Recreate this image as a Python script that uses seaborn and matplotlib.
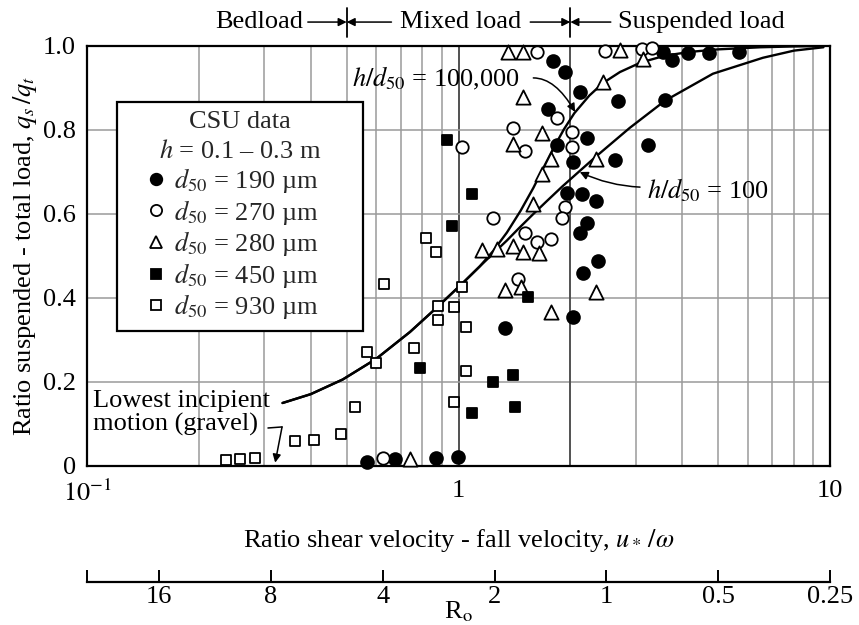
import numpy as np
import pandas as pd
import matplotlib
matplotlib.use("Agg")
import matplotlib.pyplot as plt
import seaborn as sns
from matplotlib.lines import Line2D
from matplotlib.ticker import LogLocator, NullLocator, FixedLocator
from matplotlib.transforms import blended_transform_factory

sns.set_theme(style="white")
plt.rcParams["font.family"] = ["Liberation Serif", "DejaVu Serif"]
plt.rcParams["mathtext.fontset"] = "stix"
FS = 19

# ---------------- data (u*/omega, qs/qt) ----------------
d190_x = [1.80, 1.94, 2.12, 2.69, 1.74, 1.84, 2.22, 2.03, 2.64, 3.24, 3.60, 1.96, 2.15, 2.34, 2.22,
          2.12, 2.37, 2.16, 2.03, 1.33, 3.55, 3.76, 4.15, 4.72, 5.69, 0.567, 0.675, 0.87, 0.997]
d190_y = [0.964, 0.938, 0.890, 0.869, 0.850, 0.764, 0.781, 0.724, 0.729, 0.764, 0.871, 0.650, 0.648, 0.631, 0.579,
          0.555, 0.488, 0.460, 0.355, 0.329, 0.986, 0.967, 0.983, 0.983, 0.986, 0.010, 0.017, 0.019, 0.021]

d270_x = [1.025, 1.63, 2.48, 3.12, 3.32, 1.84, 1.40, 1.51, 2.02, 2.02, 1.94, 1.90, 1.24, 1.51, 1.63, 1.77, 1.45, 0.625]
d270_y = [0.760, 0.986, 0.988, 0.993, 0.995, 0.829, 0.805, 0.750, 0.795, 0.760, 0.617, 0.590, 0.590, 0.555, 0.533, 0.540, 0.445, 0.019]

d280_x = [1.36, 1.49, 2.72, 3.13, 2.45, 1.49, 1.68, 1.40, 1.77, 1.68, 1.59, 2.34, 1.16, 1.27, 1.40, 1.49, 1.65,
          1.33, 1.47, 1.77, 2.34, 0.74]
d280_y = [0.986, 0.986, 0.990, 0.969, 0.914, 0.879, 0.793, 0.767, 0.731, 0.695, 0.624, 0.731, 0.514, 0.517, 0.524, 0.510, 0.507,
          0.419, 0.426, 0.367, 0.414, 0.017]

d450_x = [0.93, 1.09, 0.96, 0.79, 1.24, 1.40, 1.09, 1.42, 1.54]
d450_y = [0.776, 0.648, 0.571, 0.233, 0.200, 0.217, 0.126, 0.140, 0.402]

d930_x = [0.82, 0.87, 0.63, 1.025, 0.88, 0.97, 0.88, 1.05, 0.567, 0.60, 0.757, 1.05, 0.97, 0.527, 0.483,
          0.408, 0.363, 0.283, 0.258, 0.237]
d930_y = [0.543, 0.510, 0.433, 0.426, 0.381, 0.379, 0.348, 0.331, 0.271, 0.245, 0.281, 0.226, 0.152, 0.140, 0.076,
          0.062, 0.060, 0.019, 0.017, 0.014]

# theoretical curves
common_x = [0.336, 0.40, 0.488, 0.60, 0.74, 0.876, 1.025, 1.14]
common_y = [0.150, 0.171, 0.206, 0.255, 0.319, 0.378, 0.435, 0.475]
upper_x = [1.24, 1.35, 1.47, 1.59, 1.70, 1.80, 1.92, 2.05, 2.25, 2.45, 2.72, 3.1, 3.6, 4.2, 5.0, 6.5, 8.0, 9.6]
upper_y = [0.512, 0.556, 0.608, 0.662, 0.713, 0.756, 0.801, 0.840, 0.882, 0.912, 0.938, 0.961, 0.977, 0.986,
           0.992, 0.997, 0.999, 1.0]
lower_x = [1.24, 1.35, 1.45, 1.59, 1.73, 1.9, 2.08, 2.36, 2.89, 3.6, 4.84, 6.6, 8.0, 9.6]
lower_y = [0.506, 0.537, 0.565, 0.600, 0.631, 0.665, 0.696, 0.739, 0.805, 0.870, 0.934, 0.972, 0.989, 0.997]

x_ticks = [0.1, 1, 10]
x_ticklabels = ["$10^{-1}$", "1", "10"]
y_ticks = [0, 0.2, 0.4, 0.6, 0.8, 1.0]
y_ticklabels = ["0", "0.2", "0.4", "0.6", "0.8", "1.0"]
ro_ticks = [25, 16, 8, 4, 2, 1, 0.5, 0.25]
ro_ticklabels = ["", "16", "8", "4", "2", "1", "0.5", "0.25"]

# ---------------- figure ----------------
fig = plt.figure(figsize=(8.59, 6.25), dpi=100)
ax = fig.add_axes([87 / 859, 1 - 466 / 625, 743 / 859, 420 / 625])
ax.set_xscale("log")
ax.set_xlim(0.1, 10)
ax.set_ylim(0, 1)

ax.xaxis.set_minor_locator(LogLocator(base=10, subs=np.arange(2, 10)))
ax.grid(which="minor", axis="x", color="#9a9a9a", lw=1.1)
ax.grid(which="major", axis="x", color="#333333", lw=1.2)
ax.grid(which="major", axis="y", color="#9a9a9a", lw=1.1)
ax.axvline(2, color="#444444", lw=1.2, zorder=0.6)
ax.set_axisbelow(True)

for sp in ax.spines.values():
    sp.set_color("black")
    sp.set_linewidth(1.6)

ax.set_xticks(x_ticks, labels=x_ticklabels)
ax.set_yticks(y_ticks, labels=y_ticklabels)
ax.tick_params(axis="both", which="both", length=0, labelsize=FS, colors="black")
ax.tick_params(axis="x", pad=10)
ax.tick_params(axis="y", pad=8)
ax.set_xlabel(r"Ratio shear velocity - fall velocity, $u_*\,/\omega$", fontsize=FS, labelpad=15, color="black")
ax.set_ylabel(r"Ratio suspended - total load, $q_s\,/q_t$", fontsize=FS, labelpad=3, color="black")

# curves
sns.lineplot(x=common_x + upper_x, y=common_y + upper_y, sort=False, estimator=None,
             color="black", lw=1.7, ax=ax, zorder=2)
sns.lineplot(x=common_x + lower_x, y=common_y + lower_y, sort=False, estimator=None,
             color="black", lw=1.7, ax=ax, zorder=2)

# scatter series
series = [
    (d190_x, d190_y, "o", "black", 85, r"$d_{50}$ = 190 µm"),
    (d270_x, d270_y, "o", "white", 80, r"$d_{50}$ = 270 µm"),
    (d280_x, d280_y, "^", "white", 105, r"$d_{50}$ = 280 µm"),
    (d450_x, d450_y, "s", "black", 62, r"$d_{50}$ = 450 µm"),
    (d930_x, d930_y, "s", "white", 58, r"$d_{50}$ = 930 µm"),
]
handles = []
for xs, ys, m, fc, s, lab in series:
    sns.scatterplot(x=xs, y=ys, marker=m, s=s, color=fc, edgecolor="black", linewidth=1.3,
                    ax=ax, zorder=3, clip_on=False, legend=False)
    handles.append(Line2D([], [], marker=m, ls="none", mfc=fc, mec="black", mew=1.3,
                          ms=np.sqrt(s) * 0.9, label=lab))

leg = ax.legend(handles=handles, title="CSU data\n$h$ = 0.1 – 0.3 m",
                loc="upper left", bbox_to_anchor=(0.040, 0.30, 0.331, 0.567), mode="expand",
                borderaxespad=0, fontsize=FS, title_fontsize=FS, frameon=True, fancybox=False,
                edgecolor="black", framealpha=1, handlelength=2.26, handletextpad=-0.43,
                labelspacing=0.1, borderpad=0.35)
leg.get_title().set_multialignment("center")
leg.get_title().set_linespacing(1.4)
leg.get_frame().set_linewidth(1.6)
leg.set_zorder(5)

# curve annotations
ax.text(0.517, 0.924, r"$h/d_{50}$ = 100,000", fontsize=FS, ha="left", va="center", color="black")
ax.annotate("", xy=(2.06, 0.843), xytext=(1.59, 0.924),
            arrowprops=dict(arrowstyle="-|>", color="black", lw=1.1, shrinkA=0, shrinkB=0,
                            mutation_scale=12, connectionstyle="angle3,angleA=0,angleB=120"))
ax.text(3.22, 0.657, r"$h/d_{50}$ = 100", fontsize=FS, ha="left", va="center", color="black")
ax.annotate("", xy=(2.12, 0.70), xytext=(3.08, 0.664),
            arrowprops=dict(arrowstyle="-|>", color="black", lw=1.1, shrinkA=0, shrinkB=0,
                            mutation_scale=12, connectionstyle="arc3,rad=-0.1"))
ax.text(0.104, 0.126, "Lowest incipient\nmotion (gravel)", fontsize=FS, ha="left", va="center",
        linespacing=1.05, color="black")
ax.plot([0.307, 0.335], [0.0905, 0.093], color="black", lw=1.1)
ax.annotate("", xy=(0.321, 0.008), xytext=(0.335, 0.093),
            arrowprops=dict(arrowstyle="-|>", color="black", lw=1.1, shrinkA=0, shrinkB=0,
                            mutation_scale=12))

# top regime labels
trans = blended_transform_factory(ax.transData, ax.transAxes)
ytop = 1.057
for xb in (0.5, 2.0):
    ax.plot([xb, xb], [1.021, 1.090], color="black", lw=1.3, transform=trans, clip_on=False)
ax.text(0.381, ytop, "Bedload", fontsize=FS, ha="right", va="center", transform=trans, color="black")
ax.text(0.696, ytop, "Mixed load", fontsize=FS, ha="left", va="center", transform=trans, color="black")
ax.text(2.69, ytop, "Suspended load", fontsize=FS, ha="left", va="center", transform=trans, color="black")
arrow_kw = dict(arrowstyle="-|>", color="black", lw=1.1, shrinkA=0, shrinkB=0, mutation_scale=12)
for x0, x1 in [(0.393, 0.5), (0.66, 0.5), (1.56, 2.0), (2.57, 2.0)]:
    ax.annotate("", xy=(x1, ytop), xytext=(x0, ytop), xycoords=trans, textcoords=trans,
                arrowprops=arrow_kw, annotation_clip=False)

# secondary Ro axis
sec = ax.secondary_xaxis(-0.276, functions=(lambda x: 2.5 / x, lambda r: 2.5 / r))
sec.set_xticks(ro_ticks, labels=ro_ticklabels)
sec.xaxis.set_minor_locator(NullLocator())
sec.tick_params(axis="x", which="major", direction="in", length=9, width=1.4, labelsize=FS,
                pad=3, colors="black")
sec.spines["bottom"].set_linewidth(1.6)
sec.spines["bottom"].set_color("black")
sec.set_xlabel(r"R$_\mathrm{o}$", fontsize=FS, labelpad=-6, color="black")

fig.savefig("out.png", dpi=100)
